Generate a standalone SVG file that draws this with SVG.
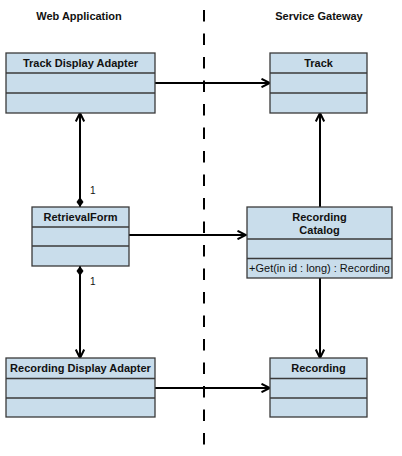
<svg xmlns="http://www.w3.org/2000/svg" width="402" height="456" viewBox="0 0 402 456">
<style>
.box{fill:#c9ddeb;stroke:#3a3a3a;stroke-width:1.3}
.div{stroke:#3a3a3a;stroke-width:1.3}
.t{font-family:"Liberation Sans",Arial,sans-serif;font-size:11px;font-weight:bold;fill:#111;text-anchor:middle}
.r{font-family:"Liberation Sans",Arial,sans-serif;font-size:11px;fill:#111;text-anchor:middle}
.m{font-family:"Liberation Sans",Arial,sans-serif;font-size:10px;fill:#111}
.c{stroke:#000;stroke-width:2;fill:none}
</style>
<defs>
<marker id="arr" viewBox="0 0 10 10" refX="9.5" refY="5" markerWidth="10" markerHeight="10" markerUnits="userSpaceOnUse" orient="auto">
<path d="M1,0.8 L9.5,5 L1,9.2" fill="none" stroke="#000" stroke-width="2"/>
</marker>
<marker id="dia" viewBox="0 0 10 8" refX="0" refY="4" markerWidth="10" markerHeight="8" markerUnits="userSpaceOnUse" orient="auto">
<path d="M0,4 L5,0.5 L10,4 L5,7.5 Z" fill="#000"/>
</marker>
</defs>
<text class="t" x="79" y="20">Web Application</text>
<text class="t" x="319" y="20">Service Gateway</text>
<line x1="204" y1="10" x2="204" y2="452" stroke="#000" stroke-width="2" stroke-dasharray="11.5 12"/>
<g id="connectors">
<line class="c" x1="155" y1="83" x2="270" y2="83" marker-end="url(#arr)"/>
<line class="c" x1="129" y1="235" x2="246" y2="235" marker-end="url(#arr)"/>
<line class="c" x1="155" y1="388" x2="270" y2="388" marker-end="url(#arr)"/>
<line class="c" x1="320" y1="207" x2="320" y2="113" marker-end="url(#arr)"/>
<line class="c" x1="320" y1="278" x2="320" y2="358" marker-end="url(#arr)"/>
<line class="c" x1="80" y1="207" x2="80" y2="113" marker-start="url(#dia)" marker-end="url(#arr)"/>
<line class="c" x1="80" y1="266" x2="80" y2="358" marker-start="url(#dia)" marker-end="url(#arr)"/>
<text class="m" x="90" y="194">1</text>
<text class="m" x="90" y="285">1</text>
</g>
<g id="track-display-adapter">
<rect class="box" x="6" y="53" width="149" height="60"/>
<line class="div" x1="6" y1="73" x2="155" y2="73"/>
<line class="div" x1="6" y1="93" x2="155" y2="93"/>
<text class="t" x="80.5" y="67">Track Display Adapter</text>
</g>
<g id="track">
<rect class="box" x="270" y="53" width="97" height="60"/>
<line class="div" x1="270" y1="73" x2="367" y2="73"/>
<line class="div" x1="270" y1="93" x2="367" y2="93"/>
<text class="t" x="318.5" y="67">Track</text>
</g>
<g id="retrieval-form">
<rect class="box" x="32" y="207" width="97" height="59"/>
<line class="div" x1="32" y1="227" x2="129" y2="227"/>
<line class="div" x1="32" y1="246" x2="129" y2="246"/>
<text class="t" x="80.5" y="221">RetrievalForm</text>
</g>
<g id="recording-catalog">
<rect class="box" x="247" y="207" width="145" height="71"/>
<line class="div" x1="247" y1="239" x2="392" y2="239"/>
<line class="div" x1="247" y1="258.5" x2="392" y2="258.5"/>
<text class="t" x="319.5" y="221">Recording</text>
<text class="t" x="319.5" y="234">Catalog</text>
<text class="r" x="319.5" y="272">+Get(in id : long) : Recording</text>
</g>
<g id="recording-display-adapter">
<rect class="box" x="6" y="358" width="149" height="59"/>
<line class="div" x1="6" y1="378.5" x2="155" y2="378.5"/>
<line class="div" x1="6" y1="398" x2="155" y2="398"/>
<text class="t" x="80.5" y="372">Recording Display Adapter</text>
</g>
<g id="recording">
<rect class="box" x="270" y="358" width="97" height="59"/>
<line class="div" x1="270" y1="378.5" x2="367" y2="378.5"/>
<line class="div" x1="270" y1="398" x2="367" y2="398"/>
<text class="t" x="318.5" y="372">Recording</text>
</g>
</svg>
